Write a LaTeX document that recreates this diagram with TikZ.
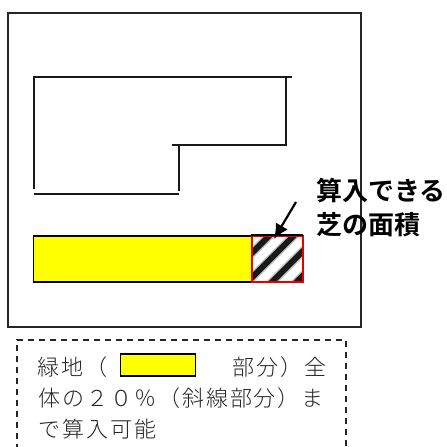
\documentclass[tikz,border=0pt]{standalone}
\usepackage{fontspec}
\setmainfont{Liberation Serif}
\newfontfamily\jpfont[LetterSpace=9]{Noto Sans CJK JP Light}
\newfontfamily\jpbold{Noto Sans CJK JP Bold}
\usetikzlibrary{positioning,arrows.meta}
\definecolor{greenfill}{RGB}{255,255,0}
\definecolor{turfred}{RGB}{230,0,0}
\tikzset{
  wall/.style={draw=black!90,line width=2pt},
  legendtext/.style={anchor=west,inner sep=0pt,font=\jpfont\fontsize{22}{24}\selectfont,text=black!85},
  labeltext/.style={anchor=west,inner sep=0pt,font=\jpbold\fontsize{26}{28}\selectfont},
  greenbox/.style={draw=black,fill=greenfill,rectangle,inner sep=0pt}
}
\begin{document}
\begin{tikzpicture}[x=1pt,y=-1pt]
  \useasboundingbox (0,0) rectangle (447,447);
  \draw[draw=black!85,line width=2pt] (8,13) rectangle (361,327);
  % building outline
  \draw[wall] (33.5,189) -- (33.5,76.5) -- (292,76.5);
  \draw[wall] (285.5,76.5) -- (285.5,144.5) -- (172,144.5);
  \draw[wall] (179,144.5) -- (179,191);
  \draw[wall] (34,194) -- (179,194);
  % green area and turf
  \node (green) [greenbox,line width=1.6pt,minimum width=218pt,minimum height=46pt] at (142.5,259) {};
  \node (turf) [rectangle,draw=turfred,line width=2pt,minimum width=51pt,minimum height=46pt,inner sep=0pt,
    path picture={
      \foreach \s in {-31.5,-7,17.5,42} {
        \draw[line width=8.5pt,black!25] (\s-30,30) -- +(60,-60);
        \draw[line width=6pt,black!90] (\s-30,30) -- +(60,-60);
      }
    }] at (277.5,259) {};
  \draw[black,line width=1.6pt] (251,235) -- (303,235);
  \coordinate (arrowtail) at (296,202);
  \coordinate (arrowtip) at (274,239);
  \draw[-{Latex[length=15pt,width=14pt]},line width=2.2pt] (arrowtail) -- (arrowtip);
  \node (turflabela) [labeltext] at (316,191) {算入できる};
  \node (turflabelb) [labeltext] at (316,225) {芝の面積};
  % legend
  \draw[black!85,line width=1.6pt,dash pattern=on 6pt off 5pt] (17,450) -- (17,340) -- (346,340) -- (346,450);
  \node (legenda) [legendtext] at (37,367) {緑地（};
  \node (legendbox) [greenbox,line width=1.5pt,minimum width=75pt,minimum height=22pt] at (158,365) {};
  \node (legendb) [legendtext] at (232,367) {部分）全};
  \node (legendc) [legendtext] at (38,398) {体の２０％（斜線部分）ま};
  \node (legendd) [legendtext] at (38,429) {で算入可能};
\end{tikzpicture}
\end{document}
